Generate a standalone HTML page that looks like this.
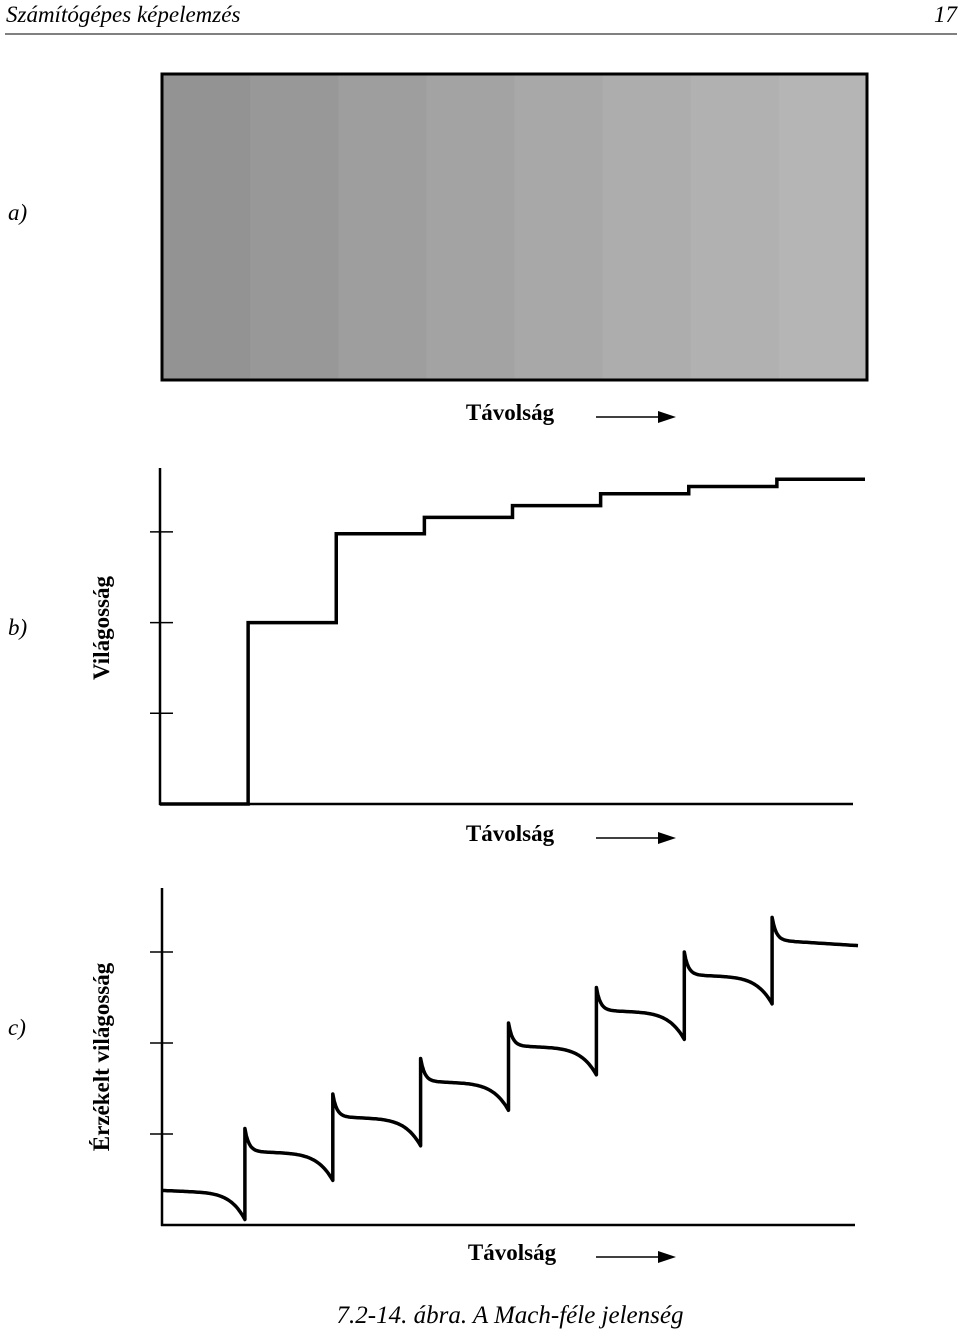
<!DOCTYPE html>
<html><head><meta charset="utf-8"><style>
body{margin:0;background:#fff}
svg text{font-family:"Liberation Serif",serif}
</style></head><body>
<svg id="fig" width="960" height="1330" xmlns="http://www.w3.org/2000/svg">
<text x="6" y="22" font-size="23" font-style="italic">Számítógépes képelemzés</text>
<text x="957" y="22" font-size="23" font-style="italic" text-anchor="end">17</text>
<line x1="5" y1="34" x2="957" y2="34" stroke="#000" stroke-width="1"/>
<text x="8" y="220" font-size="23" font-style="italic">a)</text>
<text x="8" y="635" font-size="23" font-style="italic">b)</text>
<text x="8" y="1035" font-size="23" font-style="italic">c)</text>
<g id="bands"></g>
<rect x="162" y="74" width="705" height="306" fill="none" stroke="#000" stroke-width="3"/>
<g><text x="510" y="420" font-size="23" font-weight="bold" text-anchor="middle">Távolság</text>
<line x1="596" y1="417" x2="664" y2="417" stroke="#000" stroke-width="1.5"/><polygon points="676,417 658,411 658,423" fill="#000"/></g>
<g><text x="510" y="841" font-size="23" font-weight="bold" text-anchor="middle">Távolság</text>
<line x1="596" y1="838" x2="664" y2="838" stroke="#000" stroke-width="1.5"/><polygon points="676,838 658,832 658,844" fill="#000"/></g>
<g><text x="512" y="1260" font-size="23" font-weight="bold" text-anchor="middle">Távolság</text>
<line x1="596" y1="1257" x2="664" y2="1257" stroke="#000" stroke-width="1.5"/><polygon points="676,1257 658,1251 658,1263" fill="#000"/></g>
<text transform="translate(109,628) rotate(-90)" font-size="23" font-weight="bold" text-anchor="middle">Világosság</text>
<text transform="translate(109,1057) rotate(-90)" font-size="23" font-weight="bold" text-anchor="middle">Érzékelt világosság</text>
<g>
<line x1="160" y1="468" x2="160" y2="805" stroke="#000" stroke-width="2.5"/>
<line x1="159" y1="804" x2="853" y2="804" stroke="#000" stroke-width="2.5"/>
</g>
<g id="ticksB"></g>
<path id="stepB" fill="none" stroke="#000" stroke-width="3.5"/>
<g>
<line x1="162" y1="888" x2="162" y2="1226" stroke="#000" stroke-width="2.5"/>
<line x1="161" y1="1225" x2="855" y2="1225" stroke="#000" stroke-width="2.5"/>
</g>
<g id="ticksC"></g>
<path id="curveC" fill="none" stroke="#000" stroke-width="3.5" stroke-linejoin="round"/>
<text x="510" y="1323" font-size="25" font-style="italic" text-anchor="middle">7.2-14. ábra. A Mach-féle jelenség</text>
</svg>
<script>
// data
const bandGray = [147,152,158,163,168,173,177,181];
const lumLevels = [0,2,2.98,3.16,3.29,3.42,3.5,3.58];
const perceivedLevels = [0.38,0.81,1.19,1.58,1.97,2.36,2.75,3.13];
const tickValues = [1,2,3];
const NS="http://www.w3.org/2000/svg";
function mk(t,a,p){const e=document.createElementNS(NS,t);for(const k in a)e.setAttribute(k,a[k]);p.appendChild(e);return e;}
// panel a
const bx0=162,bx1=867,bw=(bx1-bx0)/bandGray.length;
const bandsG=document.getElementById('bands');
bandGray.forEach((g,i)=>{const r=mk('rect',{x:bx0+i*bw,y:74,width:bw+0.5,height:306,fill:`rgb(${g},${g},${g})`},bandsG);

});
// panel b
const xB=i=>160+i*(865-160)/lumLevels.length, yB=v=>804-v*90.7;
const tB=document.getElementById('ticksB');
tickValues.forEach(v=>{const l=mk('line',{x1:150,x2:173,y1:yB(v),y2:yB(v),stroke:'#000','stroke-width':1.5},tB);

});
let d='';
lumLevels.forEach((v,i)=>{d+=(i?'L':'M')+xB(i)+','+yB(v)+'L'+xB(i+1)+','+yB(v);});
document.getElementById('stepB').setAttribute('d',d);
// panel c
const xC=i=>162+i*(865-162)/perceivedLevels.length, yC=v=>1225-v*91;
const tC=document.getElementById('ticksC');
tickValues.forEach(v=>{const l=mk('line',{x1:150,x2:173,y1:yC(v),y2:yC(v),stroke:'#000','stroke-width':1.5},tC);

});
let p='';
perceivedLevels.forEach((L,i)=>{
  const xs=xC(i)+(i?-5:0), xe=xC(i+1)-5, last=i===perceivedLevels.length-1;
  const w=(last?858:xe)-xs;
  for(let k=0;k<=60;k++){
    const t=k/60, x=xs+t*w;
    let v=L;
    if(i>0) v+=0.25*Math.exp(-(t*w)/4);
    if(last) v-=0.06*t; else v-=0.28*Math.pow(t,6)+0.04*t;
    p+=(p?'L':'M')+x.toFixed(1)+','+yC(v).toFixed(1);
  }
});
document.getElementById('curveC').setAttribute('d',p);
</script>
</body></html>
